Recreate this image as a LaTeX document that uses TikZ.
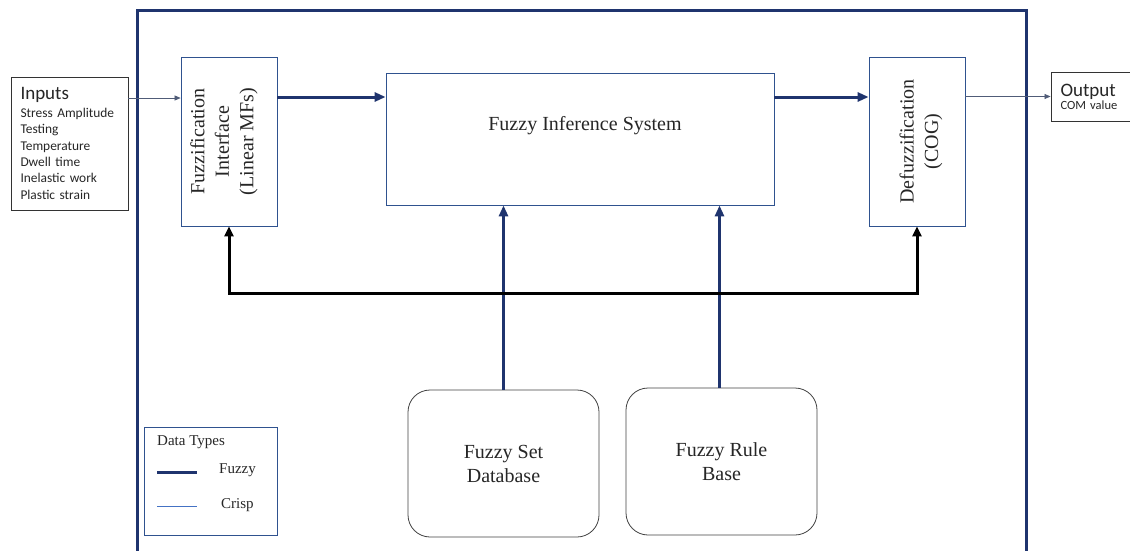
\documentclass[tikz,border=0pt]{standalone}
\usepackage{fontspec}
\setmainfont{Liberation Serif}
\newfontfamily\calib{Carlito}
\usetikzlibrary{arrows.meta}
\definecolor{navy}{RGB}{31,52,110}
\definecolor{boxblue}{RGB}{47,82,143}
\definecolor{crispc}{RGB}{80,92,120}
\definecolor{legcrisp}{RGB}{68,114,196}
\begin{document}
\begin{tikzpicture}[x=1pt,y=-1pt,
  box/.style={draw=boxblue, line width=0.8pt, inner sep=0pt, minimum width=96pt, minimum height=169pt},
  txt/.style={font=\fontsize{20}{24.5}\selectfont, align=center, inner sep=0pt, text=black!85},
  rbox/.style={draw=black!75, line width=0.8pt, rounded corners=22pt, minimum width=191pt, minimum height=147pt, font=\fontsize{20}{24}\selectfont, align=center, text=black!85},
  ibox/.style={draw=black!80, line width=0.9pt, inner sep=0pt, align=left, text=black!85},
  fuzzyarrow/.style={draw=navy, line width=3pt, -{Triangle[length=11pt,width=9pt]}},
  crisparrow/.style={draw=crispc, line width=0.6pt, -{Triangle[length=6pt,width=5pt]}},
  busarrow/.style={draw=black, line width=3pt, line join=miter, {Triangle[length=10pt,width=9pt]}-{Triangle[length=10pt,width=9pt]}},
  legtxt/.style={font=\fontsize{15}{18}\selectfont, inner sep=0pt, anchor=west, text=black!85}
]
\useasboundingbox (0,0) rectangle (1130,551);
% outer frame
\draw[navy, line width=3pt, line join=miter] (137,553) -- (137,11) -- (1026,11) -- (1026,553);

% inputs
\node[ibox, minimum width=117pt, minimum height=133pt, text width=98pt, inner xsep=9pt,
      font=\calib\fontsize{13.4}{16.4}\selectfont] (inputs) at (69.5,143.5)
  {{\fontsize{19}{20}\selectfont Inputs}\\[1pt]Stress Amplitude\\Testing\\Temperature\\Dwell time\\Inelastic work\\Plastic strain};

% output
\node[ibox, minimum width=79pt, minimum height=49pt, text width=60pt, inner xsep=9pt,
      font=\calib\fontsize{12.5}{15}\selectfont] (output) at (1090.5,96.5)
  {{\fontsize{19}{20}\selectfont Output}\\[-2pt]COM value};

% fuzzification
\node[box] (fuzz) at (229,141.5) {};
\node[txt, rotate=90] (fuzztext) at ([xshift=-5pt]fuzz.center) {Fuzzification\\Interface\\(Linear MFs)};

% inference
\node[box, minimum width=388pt, minimum height=132pt] (fis) at (580,139) {};
\node[txt] (fistext) at (585,126) {Fuzzy Inference System};

% defuzzification
\node[box] (defuzz) at (917,141.5) {};
\node[txt, rotate=90] (defuzztext) at ([xshift=4pt]defuzz.center) {Defuzzification\\(COG)};

% knowledge base
\node[rbox] (fsd) at (503.5,463.5) {Fuzzy Set\\Database};
\node[rbox] (frb) at (721.5,461.5) {Fuzzy Rule\\Base};

% connectors
\coordinate (inY) at (0,98);
\coordinate (fY) at (0,97);
\draw[crisparrow] (inputs.east |- inY) -- (fuzz.west |- inY);
\draw[fuzzyarrow] (fuzz.east |- fY) -- (fis.west |- fY);
\draw[fuzzyarrow] (fis.east |- fY) -- (defuzz.west |- fY);
\draw[crisparrow] (defuzz.east |- output.west) -- (output.west);
\draw[fuzzyarrow] (fsd.north) -- (fsd.north |- fis.south);
\draw[fuzzyarrow] ([xshift=-2pt]frb.north) -- ([xshift=-2pt]frb.north |- fis.south);
\coordinate (busY) at (0,293);
\draw[busarrow] (fuzz.south) -- (fuzz.south |- busY) -- (defuzz.south |- busY) -- (defuzz.south);

% legend
\node[draw=boxblue, line width=0.8pt, minimum width=133pt, minimum height=108pt, inner sep=0pt] (legend) at (210.5,481) {};
\node[legtxt] (legtitle) at (157,442) {Data Types};
\coordinate (lf1) at (157,472);
\coordinate (lf2) at (197,472);
\coordinate (lc1) at (157,506);
\coordinate (lc2) at (197,506);
\draw[navy, line width=3pt] (lf1) -- (lf2);
\draw[legcrisp, line width=0.6pt] (lc1) -- (lc2);
\node[legtxt] (legfuzzy) at (219,470) {Fuzzy};
\node[legtxt] (legcrisptxt) at (221,505) {Crisp};
\end{tikzpicture}
\end{document}
